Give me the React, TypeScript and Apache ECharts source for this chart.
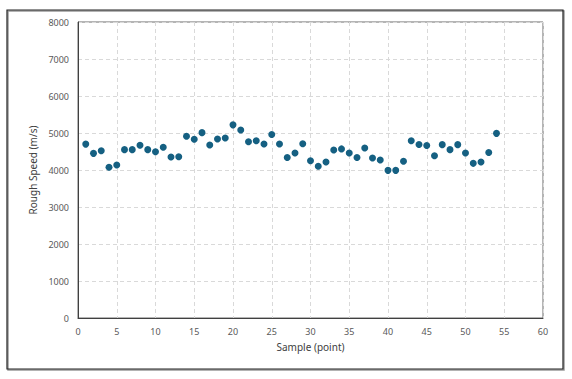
import React, { useEffect, useRef } from "react";
import * as echarts from "echarts";

const samples = [
  1, 2, 3, 4, 5, 6, 7, 8, 9, 10, 11, 12, 13, 14, 15, 16, 17, 18, 19, 20,
  21, 22, 23, 24, 25, 26, 27, 28, 29, 30, 31, 32, 33, 34, 35, 36, 37, 38, 39, 40,
  41, 42, 43, 44, 45, 46, 47, 48, 49, 50, 51, 52, 53, 54,
];
const roughSpeed = [
  4700, 4450, 4520, 4075, 4135, 4550, 4550, 4670, 4550, 4495,
  4615, 4350, 4360, 4910, 4830, 5010, 4675, 4840, 4865, 5220,
  5080, 4765, 4790, 4705, 4960, 4705, 4340, 4460, 4710, 4250,
  4100, 4215, 4540, 4570, 4460, 4340, 4595, 4325, 4270, 3990,
  3990, 4235, 4790, 4690, 4660, 4385, 4685, 4550, 4685, 4460,
  4180, 4215, 4475, 4990,
];
const xTicks = { min: 0, max: 60, interval: 5 };
const yTicks = { min: 0, max: 8000, interval: 1000 };

export default function App() {
  const ref = useRef<HTMLDivElement>(null);
  useEffect(() => {
    if (!ref.current) return;
    const chart = echarts.init(ref.current, undefined, { renderer: "svg" });
    const labelStyle = { fontSize: 9, color: "#595959", fontFamily: "Noto Sans" };
    chart.setOption({
      animation: false,
      backgroundColor: "#ffffff",
      grid: {
        left: 78,
        top: 22,
        right: 29,
        bottom: 61,
        show: true,
        borderColor: "#6b6b6b",
        borderWidth: 1,
      },
      xAxis: {
        type: "value",
        min: xTicks.min,
        max: xTicks.max,
        interval: xTicks.interval,
        name: "Sample (point)",
        nameLocation: "middle",
        nameGap: 24,
        nameTextStyle: { fontSize: 10, color: "#404040", fontFamily: "Noto Sans" },
        axisLine: { show: true, lineStyle: { color: "#404040", width: 1 } },
        axisTick: { show: false },
        axisLabel: { ...labelStyle, margin: 9 },
        splitLine: { show: true, lineStyle: { color: "#d9d9d9", type: [4, 3] } },
      },
      yAxis: {
        type: "value",
        min: yTicks.min,
        max: yTicks.max,
        interval: yTicks.interval,
        name: "Rough Speed (m/s)",
        nameLocation: "middle",
        nameGap: 33,
        nameTextStyle: { fontSize: 10, color: "#404040", fontFamily: "Noto Sans" },
        axisLine: { show: true, lineStyle: { color: "#404040", width: 1 } },
        axisTick: { show: false },
        axisLabel: { ...labelStyle, margin: 9, formatter: (v: number) => String(v) },
        splitLine: { show: true, lineStyle: { color: "#d9d9d9", type: [4, 3] } },
      },
      graphic: [
        {
          type: "rect",
          shape: { x: 8, y: 11, width: 556, height: 359 },
          style: { fill: "none", stroke: "#9a9a9a", lineWidth: 1.5 },
          silent: true,
        },
        {
          type: "rect",
          shape: { x: 7, y: 10, width: 556, height: 359 },
          style: { fill: "none", stroke: "#222222", lineWidth: 1.2 },
          silent: true,
        },
      ],
      series: [
        {
          type: "scatter",
          symbol: "circle",
          symbolSize: 7,
          itemStyle: { color: "#156082", opacity: 1 },
          data: samples.map((s, i) => [s, roughSpeed[i]]),
        },
      ],
    });
    return () => chart.dispose();
  }, []);
  return (
    <div
      ref={ref}
      style={{ position: "fixed", left: 0, top: 0, width: 572, height: 379 }}
    />
  );
}
